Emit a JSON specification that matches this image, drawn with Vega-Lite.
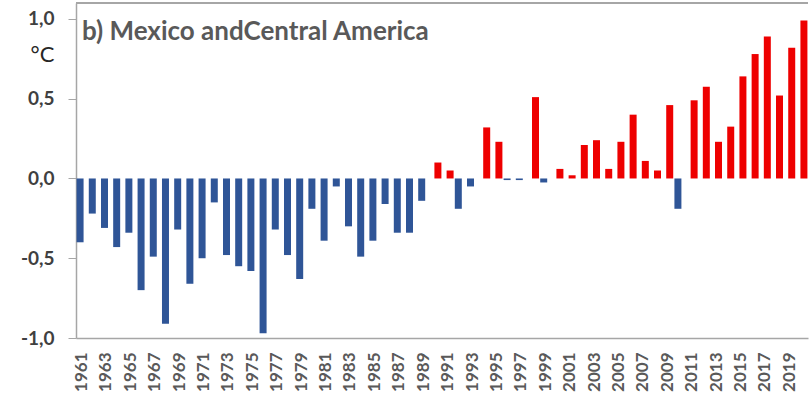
{
  "$schema": "https://vega.github.io/schema/vega-lite/v6.json",
  "width": 732,
  "height": 335,
  "autosize": {"type": "none"},
  "padding": {"left": 76, "top": 3, "right": 4, "bottom": 66},
  "background": "white",
  "config": {"view": {"stroke": null}, "font": "Lato"},
  "title": {"text": "b) Mexico andCentral America", "anchor": "start", "frame": "group", "orient": "top", "offset": -64, "dx": 6, "baseline": "alphabetic", "fontSize": 26, "fontWeight": "bold", "color": "#595959", "font": "Lato"},
  "data": {"values": [
    {"year": 1961, "v": -0.40}, {"year": 1962, "v": -0.22}, {"year": 1963, "v": -0.31}, {"year": 1964, "v": -0.43},
    {"year": 1965, "v": -0.34}, {"year": 1966, "v": -0.70}, {"year": 1967, "v": -0.49}, {"year": 1968, "v": -0.91},
    {"year": 1969, "v": -0.32}, {"year": 1970, "v": -0.66}, {"year": 1971, "v": -0.50}, {"year": 1972, "v": -0.15},
    {"year": 1973, "v": -0.48}, {"year": 1974, "v": -0.55}, {"year": 1975, "v": -0.58}, {"year": 1976, "v": -0.97},
    {"year": 1977, "v": -0.32}, {"year": 1978, "v": -0.48}, {"year": 1979, "v": -0.63}, {"year": 1980, "v": -0.19},
    {"year": 1981, "v": -0.39}, {"year": 1982, "v": -0.05}, {"year": 1983, "v": -0.30}, {"year": 1984, "v": -0.49},
    {"year": 1985, "v": -0.39}, {"year": 1986, "v": -0.16}, {"year": 1987, "v": -0.34}, {"year": 1988, "v": -0.34},
    {"year": 1989, "v": -0.14}, {"year": 1990, "v": 0.10}, {"year": 1991, "v": 0.05}, {"year": 1992, "v": -0.19},
    {"year": 1993, "v": -0.05}, {"year": 1994, "v": 0.32}, {"year": 1995, "v": 0.23}, {"year": 1996, "v": -0.01},
    {"year": 1997, "v": -0.01}, {"year": 1998, "v": 0.51}, {"year": 1999, "v": -0.025}, {"year": 2000, "v": 0.06},
    {"year": 2001, "v": 0.02}, {"year": 2002, "v": 0.21}, {"year": 2003, "v": 0.24}, {"year": 2004, "v": 0.06},
    {"year": 2005, "v": 0.23}, {"year": 2006, "v": 0.40}, {"year": 2007, "v": 0.11}, {"year": 2008, "v": 0.05},
    {"year": 2009, "v": 0.46}, {"year": 2010, "v": -0.19}, {"year": 2011, "v": 0.49}, {"year": 2012, "v": 0.575},
    {"year": 2013, "v": 0.23}, {"year": 2014, "v": 0.325}, {"year": 2015, "v": 0.64}, {"year": 2016, "v": 0.78},
    {"year": 2017, "v": 0.89}, {"year": 2018, "v": 0.52}, {"year": 2019, "v": 0.82}, {"year": 2020, "v": 0.99}
  ]},
  "layer": [
    {
      "transform": [{"calculate": "datum.v < 0 ? 'neg' : 'pos'", "as": "sign"}],
      "mark": {"type": "bar", "width": 7},
      "encoding": {
        "x": {
          "field": "year", "type": "ordinal",
          "scale": {"paddingInner": 0.344, "paddingOuter": 0.17},
          "axis": {
            "title": null,
            "values": [1961,1963,1965,1967,1969,1971,1973,1975,1977,1979,1981,1983,1985,1987,1989,1991,1993,1995,1997,1999,2001,2003,2005,2007,2009,2011,2013,2015,2017,2019],
            "labelAngle": -90, "labelFontSize": 17, "labelFontWeight": "bold", "labelColor": "#595959",
            "labelPadding": 14, "ticks": false, "domainColor": "#a6a6a6", "domainWidth": 1.5, "labelFont": "Lato"
          }
        },
        "xOffset": {"field": "sign", "type": "nominal", "scale": {"domain": ["neg", "pos"], "paddingInner": 0, "paddingOuter": 0}},
        "y": {
          "field": "v", "type": "quantitative",
          "scale": {"domain": [-1, 1.1], "nice": false, "zero": false},
          "axis": {
            "title": "°C", "titleAngle": 0, "titleX": -34, "titleY": 58, "titleAlign": "center", "titleBaseline": "alphabetic",
            "titleFontSize": 22, "titleFontWeight": "normal", "titleColor": "#262626", "titleFont": "Lato",
            "values": [-1, -0.5, 0, 0.5, 1],
            "labelExpr": "replace(replace(format(datum.value, '.1f'), '.', ','), '\u2212', '-')",
            "labelFontSize": 19, "labelFontWeight": "bold", "labelColor": "#404040", "labelFont": "Lato",
            "labelPadding": 14, "tickSize": 8, "tickColor": "#a6a6a6", "domainColor": "#a6a6a6", "domainWidth": 1.5,
            "grid": false
          }
        },
        "color": {
          "field": "sign", "type": "nominal",
          "scale": {"domain": ["neg", "pos"], "range": ["#2f5597", "#ee0000"]},
          "legend": null
        }
      }
    },
    {
      "mark": {"type": "rule", "color": "#a6a6a6", "strokeWidth": 1.5},
      "encoding": {"y": {"datum": 1.1}}
    }
  ]
}
